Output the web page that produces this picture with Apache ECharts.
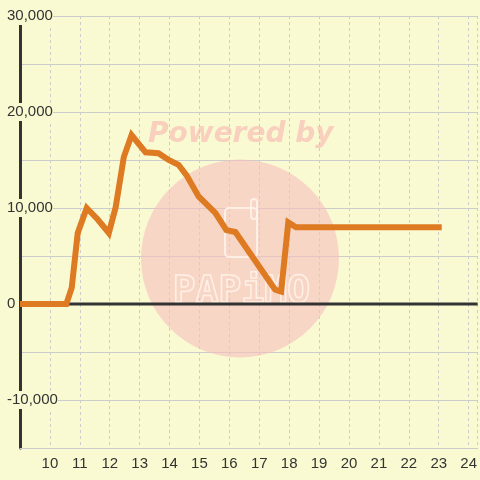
<!DOCTYPE html>
<html>
<head>
<meta charset="utf-8">
<script src="https://cdn.jsdelivr.net/npm/echarts@6/dist/echarts.min.js"></script>
<style>
html, body { margin: 0; padding: 0; background: #fafad2; }
#chart { width: 480px; height: 480px; }
</style>
</head>
<body>
<div id="chart"></div>
<script>
// hours (x) and values (y)
var hours = [9, 10.55, 10.73, 10.93, 11.23, 11.6, 11.97, 12.2, 12.47, 12.73, 13.2, 13.63, 13.97, 14.3, 14.57, 14.97, 15.53, 15.9, 16.2, 17.53, 17.73, 17.97, 18.23, 23.1];
var values = [0, 0, 1700, 7400, 10000, 8800, 7400, 10100, 15300, 17600, 15800, 15700, 15000, 14500, 13400, 11200, 9500, 7700, 7500, 1500, 1300, 8500, 8000, 8000];
var baseline = [[9, 0], [24.3, 0]];

var points = hours.map(function (h, i) { return [h, values[i]]; });

var chart = echarts.init(document.getElementById('chart'));

var pink = 'rgba(247,190,190,0.6)';
var logo = 'rgba(255,245,235,0.85)';

chart.setOption({
    backgroundColor: '#fafad2',
    animation: false,
    grid: { left: 20, right: 0, top: 16, bottom: 32 },
    xAxis: {
        type: 'value',
        min: 9,
        max: 24.3,
        interval: 1,
        axisLine: { show: true, onZero: false, lineStyle: { color: '#ccc', width: 1 } },
        axisTick: { show: false },
        axisLabel: {
            color: '#333',
            fontSize: 15,
            fontFamily: 'Liberation Sans, Arial, sans-serif',
            margin: 8,
            showMaxLabel: false,
            formatter: function (v) {
                return (Number.isInteger(v) && v > 9) ? String(v) : '';
            }
        },
        splitLine: { show: true, lineStyle: { color: '#ccc', type: [3, 3], width: 1 } }
    },
    yAxis: {
        type: 'value',
        min: -15000,
        max: 30000,
        interval: 5000,
        axisLine: { show: true, lineStyle: { color: '#333', width: 3 } },
        axisTick: { show: false },
        axisLabel: {
            color: '#333',
            fontSize: 15,
            fontFamily: 'Liberation Sans, Arial, sans-serif',
            align: 'left',
            margin: 13,
            padding: [3, 0, 0, 0],
            backgroundColor: '#fafad2',
            formatter: function (v) {
                if (v % 10000 !== 0) return '';
                return v.toLocaleString('en-US');
            }
        },
        splitLine: { show: true, lineStyle: { color: '#ccc', width: 1 } }
    },
    graphic: [
        {
            type: 'circle', z: 1, silent: true,
            shape: { cx: 240, cy: 258.5, r: 99 },
            style: { fill: pink }
        },
        {
            type: 'text', z: 1, silent: true,
            left: 148, top: 121,
            style: {
                text: 'Powered by',
                font: 'italic bold 28px "DejaVu Sans", sans-serif',
                fill: 'rgba(247,180,175,0.6)'
            }
        },
        {
            type: 'rect', z: 1, silent: true,
            shape: { x: 225, y: 208, width: 32, height: 49, r: 4 },
            style: { fill: 'none', stroke: logo, lineWidth: 2 }
        },
        {
            type: 'rect', z: 1, silent: true,
            shape: { x: 251, y: 199, width: 6, height: 20, r: 3 },
            style: { fill: 'none', stroke: logo, lineWidth: 2 }
        },
        {
            type: 'text', z: 1, silent: true,
            left: 172, top: 272,
            style: {
                text: 'PAPiMO',
                font: 'bold 38px "DejaVu Sans Mono", monospace',
                fill: 'none',
                stroke: logo,
                lineWidth: 1.5
            }
        }
    ],
    series: [
        {
            type: 'line',
            z: 3,
            data: baseline,
            symbol: 'none',
            silent: true,
            lineStyle: { color: '#333', width: 3 }
        },
        {
            type: 'line',
            z: 4,
            data: points,
            symbol: 'none',
            lineStyle: { color: '#de7a22', width: 6, join: 'miter' }
        }
    ]
});
</script>
</body>
</html>
